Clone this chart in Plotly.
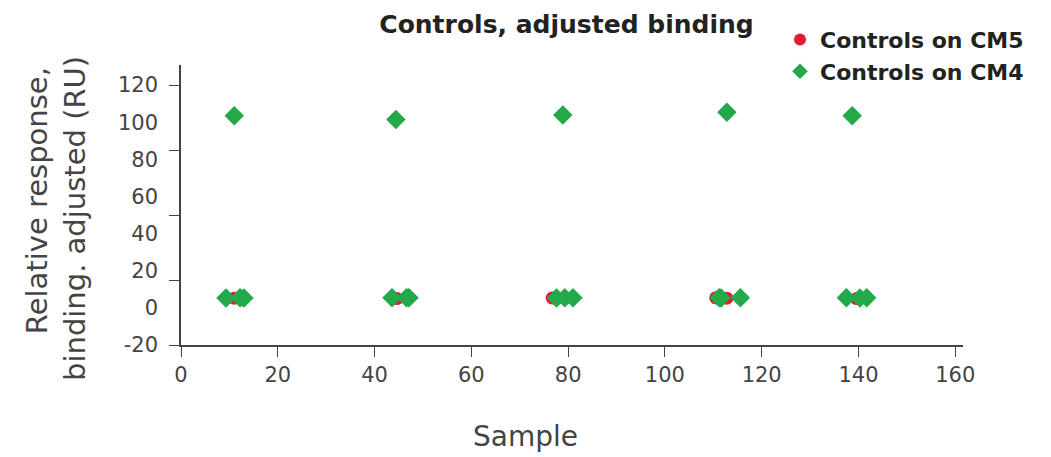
import plotly.graph_objects as go

# Sample numbers and adjusted binding levels (RU) for the control injections
cm5_sample = [11.0, 44.6, 76.7, 110.5, 112.8, 139.6]
cm5_response = [5.2, 5.0, 5.3, 5.4, 5.2, 5.0]

cm4_sample = [9.3, 11.0, 12.2, 13.0,
              43.6, 44.4, 46.6, 47.1,
              77.6, 78.9, 79.3, 81.0,
              111.2, 111.6, 112.8, 115.6,
              137.5, 138.7, 140.3, 141.7]
cm4_response = [5.3, 103.5, 5.4, 5.3,
                5.4, 101.5, 5.5, 5.4,
                5.3, 103.9, 5.4, 5.4,
                5.4, 5.3, 105.3, 5.4,
                5.4, 103.5, 5.3, 5.4]

y_tick_marks = [-20, 15, 50, 85, 120]
y_tick_values = [-20, 0, 20, 40, 60, 80, 100, 120]
y_tick_text = ["-20", "0", "20", "40", "60", "80", "100", "120"]
x_ticks = [0, 20, 40, 60, 80, 100, 120, 140, 160]

Y_RANGE = [-20, 130.8]
X_RANGE = [0, 161.6]
FONT = "DejaVu Sans"
AXIS_TEXT = "#444444"
DARK_TEXT = "#222222"

fig = go.Figure()
fig.add_trace(go.Scatter(
    x=cm5_sample, y=cm5_response, mode="markers", name="Controls on CM5",
    marker=dict(symbol="circle", size=13, color="#e31b35"),
))
fig.add_trace(go.Scatter(
    x=cm4_sample, y=cm4_response, mode="markers", name="Controls on CM4",
    marker=dict(symbol="diamond", size=15, color="#23a84a"),
))
# invisible carrier so the labelled overlay axis gets drawn
fig.add_trace(go.Scatter(
    x=[None], y=[None], yaxis="y2", mode="markers", showlegend=False,
    hoverinfo="skip",
))

title_font = dict(size=29, color=AXIS_TEXT)

fig.update_layout(
    width=1051, height=457,
    margin=dict(l=181, r=88, t=65, b=112),
    paper_bgcolor="white", plot_bgcolor="white",
    font=dict(family=FONT, color=AXIS_TEXT, size=20),
    title=dict(text="<b>Controls, adjusted binding</b>", x=0.539, xanchor="center",
               y=0.947, yanchor="middle", font=dict(size=25, color=DARK_TEXT)),
    showlegend=True,
    legend=dict(x=0.766, y=1.165, xanchor="left", yanchor="top",
                font=dict(size=22, color=DARK_TEXT, family=FONT, weight="bold"),
                itemsizing="constant", tracegroupgap=0, bgcolor="rgba(0,0,0,0)"),
    xaxis=dict(
        range=X_RANGE, tickvals=x_ticks, ticks="outside", ticklen=10,
        tickcolor=AXIS_TEXT, showline=True, linecolor=AXIS_TEXT, linewidth=1.5,
        showgrid=False, zeroline=False, tickfont=dict(size=21, color=AXIS_TEXT),
    ),
    yaxis=dict(
        range=Y_RANGE, tickvals=y_tick_marks, ticks="outside", ticklen=10,
        tickcolor=AXIS_TEXT, showticklabels=False, showline=True,
        linecolor=AXIS_TEXT, linewidth=1.5, showgrid=False, zeroline=False,
    ),
    yaxis2=dict(
        range=Y_RANGE, overlaying="y", side="left", tickvals=y_tick_values,
        ticktext=y_tick_text, ticks="", showline=False, showgrid=False,
        zeroline=False, ticklabelstandoff=22,
        tickfont=dict(size=21, color=AXIS_TEXT),
    ),
    annotations=[
        dict(text="Sample", xref="paper", yref="paper", x=0.44, y=-0.325,
             xanchor="center", yanchor="middle", showarrow=False,
             font=dict(size=28, color=AXIS_TEXT)),
        dict(text="Relative response,", xref="paper", yref="paper",
             x=-0.184, y=0.514, xanchor="center", yanchor="middle",
             textangle=-90, showarrow=False, font=title_font),
        dict(text="binding. adjusted (RU)", xref="paper", yref="paper",
             x=-0.1356, y=0.4536, xanchor="center", yanchor="middle",
             textangle=-90, showarrow=False, font=title_font),
    ],
)

fig.write_html("out.html")
